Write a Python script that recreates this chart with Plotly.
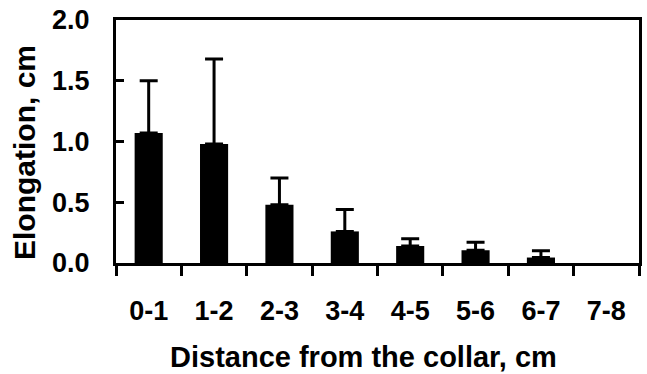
import plotly.graph_objects as go

categories = ["0-1", "1-2", "2-3", "3-4", "4-5", "5-6", "6-7", "7-8"]
elongation = [1.07, 0.98, 0.48, 0.26, 0.14, 0.105, 0.045, 0.0]
# upper SD for the first seven classes; the 7-8 class has no error bar
err_upper = [0.43, 0.70, 0.22, 0.18, 0.06, 0.065, 0.055]
err_lower = [0, 0, 0, 0, 0, 0, 0]
y_ticks = [0.0, 0.5, 1.0, 1.5, 2.0]
x_title = "Distance from the collar, cm"
y_title = "Elongation, cm"

FONT = "Liberation Sans, Arial, sans-serif"

L, R, T, B = 116, 8, 20, 111
W, H = 647, 374
pw, ph = W - L - R, H - T - B

fig = go.Figure()
fig.add_trace(go.Bar(
    x=categories, y=elongation,
    marker=dict(color="black", line=dict(width=0)),
    error_y=dict(type="data", symmetric=False, array=err_upper, arrayminus=err_lower,
                 color="black", thickness=3, width=9),
))

fig.update_layout(
    width=W, height=H,
    margin=dict(l=L, r=R, t=T, b=B, autoexpand=False),
    plot_bgcolor="white", paper_bgcolor="white",
    bargap=0.57, showlegend=False,
    font=dict(family=FONT, color="black", weight="bold"),
)
fig.update_xaxes(
    type="category", range=[-0.5, 7.5], automargin=False,
    showline=True, linecolor="black", linewidth=3, mirror=True,
    ticks="outside", tickson="boundaries", ticklen=10, tickwidth=3, tickcolor="black",
    tickfont=dict(size=27, family=FONT, weight="bold"), ticklabelstandoff=22,
    showgrid=False,
)
fig.update_yaxes(
    range=[0, 2], tickvals=y_ticks, ticktext=[f"{v:.1f}" for v in y_ticks], automargin=False,
    showline=True, linecolor="black", linewidth=3, mirror=True,
    ticks="inside", ticklen=8, tickwidth=3, tickcolor="black",
    tickfont=dict(size=27, family=FONT, weight="bold"), ticklabelstandoff=18,
    showgrid=False, zeroline=False,
)

fig.add_annotation(text=x_title, xref="paper", yref="paper",
                   x=(363 - L) / pw, y=(H - B - 357) / ph, xanchor="center", yanchor="middle",
                   showarrow=False, font=dict(size=29, family=FONT, weight="bold", color="black"))
fig.add_annotation(text=y_title, xref="paper", yref="paper", textangle=-90,
                   x=(24 - L) / pw, y=(H - B - 153) / ph, xanchor="center", yanchor="middle",
                   showarrow=False, font=dict(size=30, family=FONT, weight="bold", color="black"))

fig.write_html("out.html", config={"displayModeBar": False},
               post_script="document.body.style.margin='0';")
